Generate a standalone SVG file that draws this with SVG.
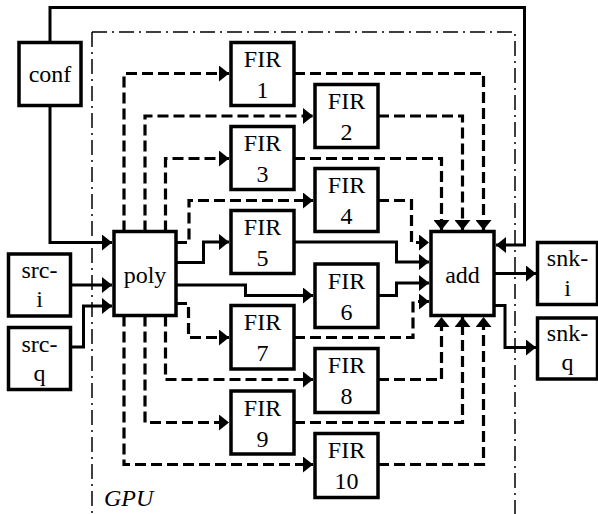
<svg xmlns="http://www.w3.org/2000/svg" width="598" height="514" viewBox="0 0 598 514">
<style>
  .box { fill: #ffffff; stroke: #000; stroke-width: 3.5; }
  .t { font-family: 'Liberation Serif', Tinos, 'Times New Roman', 'DejaVu Serif', 'Noto Serif', serif; font-size: 24px; fill: #000; text-anchor: middle; }
  .gpu { font-family: 'Liberation Serif', Tinos, 'Times New Roman', 'DejaVu Serif', 'Noto Serif', serif; font-size: 24px; font-style: italic; fill: #000; }
  .s { fill: none; stroke: #000; stroke-width: 3; marker-end: url(#ah); }
  .d { fill: none; stroke: #000; stroke-width: 3.2; stroke-dasharray: 11 5; marker-end: url(#ah); }
  .frame { fill: none; stroke: #000; stroke-width: 1.5; stroke-dasharray: 15 5 2 5; }
</style>
<defs>
  <marker id="ah" viewBox="0 0 10 16" refX="10" refY="8" markerWidth="10" markerHeight="16" markerUnits="userSpaceOnUse" orient="auto">
    <path d="M0,0 L10,8 L0,16 Z" fill="#000"/>
  </marker>
</defs>

<g id="gpu-frame">
  <path class="frame" d="M92,32 H515 V520"/>
  <path class="frame" d="M92,32 V520"/>
  <text class="gpu" x="104" y="506">GPU</text>
</g>

<g id="connectors">
  <path class="s" d="M50,42.5 V7.5 H524.5 V245 H496"/>
  <path class="s" d="M50,105.5 V242.5 H112"/>
  <path class="s" d="M70.5,285 H112"/>
  <path class="s" d="M70.5,347 H83.5 V306 H112"/>
  <path class="s" d="M176,262.5 H203.5 V242 H229"/>
  <path class="s" d="M176,285 H245.5 V295.5 H313"/>
  <path class="s" d="M294,242 H396.5 V262 H429"/>
  <path class="s" d="M378,295.5 H396.5 V283 H429"/>
  <path class="s" d="M494,273.5 H536"/>
  <path class="s" d="M494,305.5 H505 V347.5 H536"/>
  <path class="d" d="M124,231.5 V73.5 H229"/>
  <path class="d" d="M145,231.5 V116 H313"/>
  <path class="d" d="M165.5,231.5 V158.5 H229"/>
  <path class="d" d="M176,242.5 H189 V200.5 H313"/>
  <path class="d" d="M176,303.5 H188.5 V337.5 H229"/>
  <path class="d" d="M165.5,315.5 V379.5 H313"/>
  <path class="d" d="M145,315.5 V422.5 H229"/>
  <path class="d" d="M124,315.5 V464.5 H313"/>
  <path class="d" d="M294,73.5 H483.5 V230"/>
  <path class="d" d="M378,116 H462.5 V230"/>
  <path class="d" d="M294,158.5 H441.5 V230"/>
  <path class="d" d="M378,200.5 H411.5 V242.5 H429"/>
  <path class="d" d="M294,337.5 H413 V301.5 H429"/>
  <path class="d" d="M378,379.5 H441.5 V317"/>
  <path class="d" d="M294,422.5 H462.5 V317"/>
  <path class="d" d="M378,464.5 H483.5 V317"/>
</g>

<g id="conf"><rect class="box" x="19" y="42.5" width="62" height="63"/><text class="t" x="50" y="82">conf</text></g>
<g id="src-i"><rect class="box" x="8.5" y="254" width="62" height="62"/><text class="t" x="39.5" y="278">src-</text><text class="t" x="39.5" y="307">i</text></g>
<g id="src-q"><rect class="box" x="8.5" y="327.5" width="62" height="62"/><text class="t" x="39.5" y="351.5">src-</text><text class="t" x="39.5" y="380.5">q</text></g>
<g id="poly"><rect class="box" x="114" y="231.5" width="62" height="84"/><text class="t" x="145" y="283">poly</text></g>
<g id="add"><rect class="box" x="431" y="231.5" width="63" height="84"/><text class="t" x="462.5" y="283">add</text></g>
<g id="snk-i"><rect class="box" x="537.5" y="242.5" width="60" height="62"/><text class="t" x="567.5" y="265.5">snk-</text><text class="t" x="567.5" y="296">i</text></g>
<g id="snk-q"><rect class="box" x="537.5" y="318" width="60" height="61"/><text class="t" x="567.5" y="341">snk-</text><text class="t" x="567.5" y="370">q</text></g>

<g id="fir1"><rect class="box" x="231" y="42.5" width="63" height="63"/><text class="t" x="262.5" y="67">FIR</text><text class="t" x="262.5" y="98">1</text></g>
<g id="fir2"><rect class="box" x="315" y="84.5" width="63" height="63"/><text class="t" x="346.5" y="109">FIR</text><text class="t" x="346.5" y="140">2</text></g>
<g id="fir3"><rect class="box" x="231" y="126.5" width="63" height="63"/><text class="t" x="262.5" y="151">FIR</text><text class="t" x="262.5" y="182">3</text></g>
<g id="fir4"><rect class="box" x="315" y="168.5" width="63" height="63"/><text class="t" x="346.5" y="193">FIR</text><text class="t" x="346.5" y="224">4</text></g>
<g id="fir5"><rect class="box" x="231" y="210.5" width="63" height="63"/><text class="t" x="262.5" y="235">FIR</text><text class="t" x="262.5" y="266">5</text></g>
<g id="fir6"><rect class="box" x="315" y="264" width="63" height="63.5"/><text class="t" x="346.5" y="288.5">FIR</text><text class="t" x="346.5" y="319.5">6</text></g>
<g id="fir7"><rect class="box" x="231" y="305.5" width="63" height="63.5"/><text class="t" x="262.5" y="330">FIR</text><text class="t" x="262.5" y="361">7</text></g>
<g id="fir8"><rect class="box" x="315" y="348.5" width="63" height="64"/><text class="t" x="346.5" y="373">FIR</text><text class="t" x="346.5" y="404">8</text></g>
<g id="fir9"><rect class="box" x="231" y="391" width="63" height="63"/><text class="t" x="262.5" y="415.5">FIR</text><text class="t" x="262.5" y="446.5">9</text></g>
<g id="fir10"><rect class="box" x="315" y="433.5" width="63" height="64"/><text class="t" x="346.5" y="458">FIR</text><text class="t" x="346.5" y="489">10</text></g>
</svg>
